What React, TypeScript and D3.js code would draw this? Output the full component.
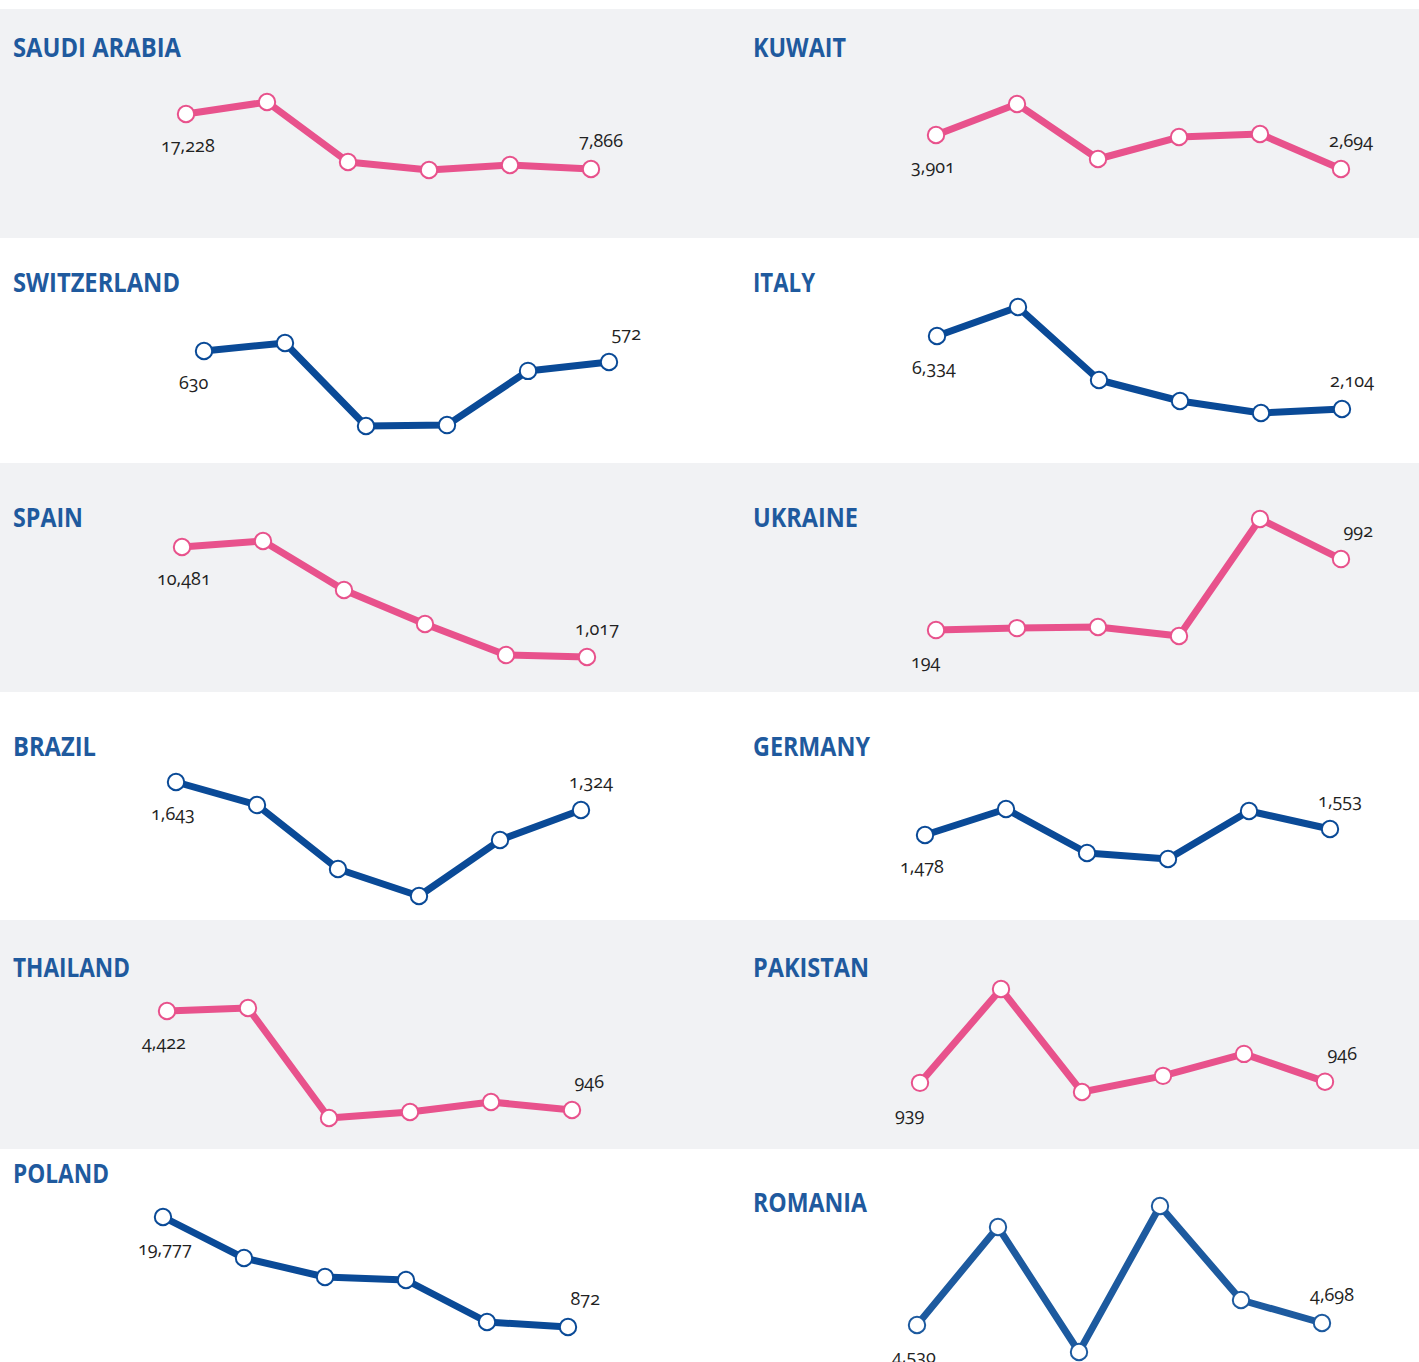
import React from "react";
import * as d3 from "d3";

// ---------- DATA ----------
const years = ["2016", "2017", "2018", "2019", "2020", "2021"];
const countries = [
  "SAUDI ARABIA", "KUWAIT",
  "SWITZERLAND", "ITALY",
  "SPAIN", "UKRAINE",
  "BRAZIL", "GERMANY",
  "THAILAND", "PAKISTAN",
  "POLAND", "ROMANIA",
];
const saudiArabia = [17228, 19269, 9057, 7696, 8547, 7866];
const kuwait = [3901, 5002, 3049, 3830, 3937, 2694];
const switzerland = [630, 672, 235, 240, 525, 572];
const italy = [6334, 8015, 3785, 2568, 1872, 2104];
const spain = [10481, 10997, 6782, 3856, 1189, 1017];
const ukraine = [194, 216, 228, 127, 1442, 992];
const brazil = [1643, 1381, 652, 344, 982, 1324];
const germany = [1478, 1803, 1253, 1178, 1778, 1553];
const thailand = [4422, 4527, 665, 876, 1227, 946];
const pakistan = [939, 1503, 884, 981, 1113, 946];
const poland = [19777, 12729, 9467, 8951, 1732, 872];
const romania = [4530, 12762, 2262, 14526, 6630, 4698];
const seriesValues = [
  saudiArabia, kuwait, switzerland, italy, spain, ukraine,
  brazil, germany, thailand, pakistan, poland, romania,
];

// ---------- LAYOUT ----------
const W = 1419;
const H = 1362;
const bands = [
  [9, 238],
  [463, 692],
  [920, 1149],
];
// per panel: first point x, pixel y of max, pixel y of min, title baseline
const layout = [
  { x0: 186, yTop: 102, yBot: 170, tY: 57 },
  { x0: 936, yTop: 104, yBot: 169, tY: 57 },
  { x0: 204, yTop: 343, yBot: 426, tY: 292 },
  { x0: 937, yTop: 307, yBot: 413, tY: 292 },
  { x0: 182, yTop: 541, yBot: 657, tY: 527 },
  { x0: 936, yTop: 519, yBot: 636, tY: 527 },
  { x0: 176, yTop: 782, yBot: 896, tY: 756 },
  { x0: 925, yTop: 809, yBot: 859, tY: 756 },
  { x0: 167, yTop: 1008, yBot: 1118, tY: 977 },
  { x0: 920, yTop: 989, yBot: 1092, tY: 977 },
  { x0: 163, yTop: 1217, yBot: 1327, tY: 1183 },
  { x0: 917, yTop: 1206, yBot: 1352, tY: 1212 },
];
const titleWidths = [168, 93, 167, 62, 70, 105, 83, 117, 117, 116, 96, 114];
const SPAN = 405;
const PINK = "#e8528c";
const BLUE = "#0a4a97";
const BLUE_R = "#1d5a9f";
const TITLE = "#1f5a9e";
const GRAY = "#f1f2f4";

const fmt = d3.format(",");

function Panel({ i }: { i: number }) {
  const L = layout[i];
  const vals = seriesValues[i];
  const row = Math.floor(i / 2);
  const col = i % 2;
  const color = row % 2 === 0 ? PINK : i === 11 ? BLUE_R : BLUE;
  const x = d3.scalePoint<string>().domain(years).range([L.x0, L.x0 + SPAN]);
  const ext = d3.extent(vals) as [number, number];
  const y = d3.scaleLinear().domain(ext).range([L.yBot, L.yTop]);
  const line = d3
    .line<number>()
    .x((_, k) => x(years[k]) as number)
    .y((d) => y(d));
  const first = vals[0];
  const last = vals[vals.length - 1];
  const fx = x(years[0]) as number;
  const lx = x(years[years.length - 1]) as number;
  return (
    <g>
      <text
        x={col === 0 ? 13 : 753}
        y={L.tY}
        fill={TITLE}
        fontFamily="'Open Sans', 'Noto Sans', sans-serif"
        fontWeight={700}
        fontSize={26}
        textLength={titleWidths[i]}
        lengthAdjust="spacingAndGlyphs"
      >
        {countries[i]}
      </text>
      <path d={line(vals) || ""} fill="none" stroke={color} strokeWidth={7} strokeLinejoin="round" />
      {vals.map((v, k) => (
        <circle key={k} cx={x(years[k]) as number} cy={y(v)} r={8.2} fill="#fff" stroke={color} strokeWidth={2} />
      ))}
      <text
        x={fx - 25}
        y={y(first) + 38}
        fontFamily="'Open Sans', 'Noto Sans', sans-serif"
        fontSize={18}
        fill="#222"
        style={{ fontVariantNumeric: "oldstyle-nums" }}
      >
        {fmt(first)}
      </text>
      <text
        x={lx + 32}
        y={y(last) - 22}
        textAnchor="end"
        fontFamily="'Open Sans', 'Noto Sans', sans-serif"
        fontSize={18}
        fill="#222"
        style={{ fontVariantNumeric: "oldstyle-nums" }}
      >
        {fmt(last)}
      </text>
    </g>
  );
}

export default function App() {
  return (
    <svg
      width={W}
      height={H}
      style={{ position: "absolute", left: 0, top: 0, display: "block", background: "#fff" }}
    >
      {bands.map((b, k) => (
        <rect key={k} x={0} y={b[0]} width={W} height={b[1] - b[0]} fill={GRAY} />
      ))}
      {countries.map((_, i) => (
        <Panel key={i} i={i} />
      ))}
    </svg>
  );
}
